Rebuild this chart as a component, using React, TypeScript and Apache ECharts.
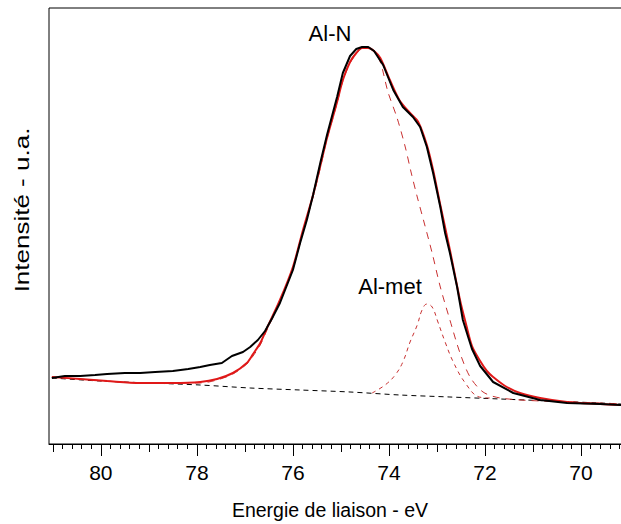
import React, { useEffect, useRef } from "react";
import * as echarts from "echarts";

// Measured spectrum (black)
const measuredEnergy = [81.02, 80.75, 80.43, 80.12, 79.87, 79.5, 79.18, 78.87, 78.5, 78.18, 77.93, 77.73, 77.48, 77.27, 77.04, 76.89, 76.73, 76.58, 76.43, 76.27, 76.0, 75.85, 75.71, 75.58, 75.43, 75.29, 75.08, 74.96, 74.81, 74.68, 74.56, 74.43, 74.31, 74.12, 73.91, 73.71, 73.5, 73.35, 73.21, 73.08, 72.93, 72.83, 72.73, 72.58, 72.46, 72.35, 72.27, 72.1, 71.83, 71.41, 70.85, 70.29, 69.6, 69.16];
const measuredIntensity = [66, 68, 68, 69, 70, 71, 71, 72, 73, 75, 77, 79, 81, 88, 92, 97, 104, 113, 126, 141, 174, 201, 224, 249, 281, 309, 347, 371, 388, 395, 397, 397, 393, 379, 354, 337, 327, 317, 297, 271, 237, 211, 191, 157, 124, 107, 95, 78, 62, 51, 44, 41, 40, 39];

// Fit envelope (red)
const fitEnergy = [81.02, 80.43, 79.87, 79.18, 78.5, 77.93, 77.58, 77.25, 76.96, 76.83, 76.68, 76.54, 76.27, 76.0, 75.79, 75.58, 75.43, 75.29, 75.08, 74.96, 74.81, 74.68, 74.56, 74.43, 74.31, 74.18, 73.98, 73.77, 73.56, 73.39, 73.21, 73.08, 72.93, 72.73, 72.52, 72.39, 72.27, 72.1, 71.96, 71.83, 71.58, 71.27, 70.85, 70.29, 69.6, 69.16];
const fitIntensity = [67, 65, 63, 61, 61, 62, 65, 71, 81, 90, 101, 116, 144, 177, 214, 249, 278, 306, 342, 364, 382, 391, 396, 396, 393, 386, 364, 343, 331, 322, 299, 274, 239, 194, 144, 119, 98, 83, 73, 67, 58, 51, 46, 42, 40, 39];

// Al-N component (red dashed)
const alnEnergy = [81.02, 79.87, 79.18, 78.5, 77.93, 77.58, 77.25, 76.96, 76.83, 76.68, 76.54, 76.27, 76.0, 75.79, 75.58, 75.43, 75.29, 75.08, 74.96, 74.81, 74.68, 74.56, 74.43, 74.31, 74.18, 74.02, 73.83, 73.66, 73.54, 73.41, 73.27, 73.1, 72.93, 72.73, 72.52, 72.31, 72.04, 71.68, 70.85, 69.6, 69.16];
const alnIntensity = [67, 63, 61, 61, 61, 64, 70, 80, 88, 99, 114, 142, 175, 212, 247, 276, 305, 341, 363, 381, 390, 396, 396, 392, 382, 352, 326, 297, 272, 247, 222, 191, 157, 124, 91, 67, 52, 46, 43, 41, 40];

// Al-met component (red dashed)
const almetEnergy = [74.35, 74.08, 73.87, 73.71, 73.56, 73.41, 73.31, 73.21, 73.1, 72.98, 72.83, 72.66, 72.41, 72.12, 71.89];
const almetIntensity = [51, 59, 69, 82, 102, 119, 134, 140, 137, 122, 102, 82, 61, 47, 46];

// Background (black dashed)
const baseEnergy = [81.02, 80.02, 78.98, 77.93, 76.89, 75.85, 74.81, 73.77, 72.73, 71.68, 70.64, 69.6, 69.16];
const baseIntensity = [66, 63, 61, 59, 56, 54, 52, 49, 47, 45, 43, 41, 40];

const majorTicks = [70, 72, 74, 76, 78, 80];
const mediumTicks = [69, 71, 73, 75, 77, 79, 81];
const X_MIN = 69;
const X_MAX = 81.08;

const zip = (xs: number[], ys: number[]) => xs.map((x, i) => [x, ys[i]]);

const FONT = "'Liberation Sans', Arial, sans-serif";

export default function App() {
  const ref = useRef<HTMLDivElement>(null);
  useEffect(() => {
    if (!ref.current) return;
    const chart = echarts.init(ref.current, undefined, { renderer: "svg" });
    const minorTicks: number[] = [];
    for (let i = 1; X_MIN + i * 0.2 <= X_MAX; i++) minorTicks.push(+(X_MIN + i * 0.2).toFixed(1));

    const gridBase = { left: 49, top: 8, right: -8, bottom: 80, containLabel: false, outerBoundsMode: "none" };
    const xBase = {
      type: "value",
      min: X_MIN,
      max: X_MAX,
      inverse: true,
      position: "bottom",
      splitLine: { show: false },
      minorTick: { show: false },
    };

    chart.setOption({
      animation: false,
      backgroundColor: "#fff",
      grid: [
        { ...gridBase, show: true, borderColor: "#000", borderWidth: 1 },
        { ...gridBase, show: false },
        { ...gridBase, show: false },
      ],
      xAxis: [
        {
          ...xBase,
          gridIndex: 0,
          axisLine: { show: true, lineStyle: { color: "#000", width: 1 } },
          axisTick: { show: true, length: 12, customValues: majorTicks, lineStyle: { color: "#000", width: 1 } },
          axisLabel: { show: true, customValues: majorTicks, color: "#000", fontSize: 21, fontFamily: FONT, margin: 18 },
        },
        {
          ...xBase,
          gridIndex: 1,
          axisLine: { show: false },
          axisTick: { show: true, length: 8, customValues: mediumTicks, lineStyle: { color: "#000", width: 1 } },
          axisLabel: { show: false },
        },
        {
          ...xBase,
          gridIndex: 2,
          axisLine: { show: false },
          axisTick: { show: true, length: 5, customValues: minorTicks, lineStyle: { color: "#000", width: 1 } },
          axisLabel: { show: false },
        },
      ],
      yAxis: [0, 1, 2].map((g) => ({
        type: "value",
        gridIndex: g,
        min: 0,
        max: 436,
        show: false,
        splitLine: { show: false },
      })),
      series: [
        {
          name: "Fond",
          type: "line",
          data: zip(baseEnergy, baseIntensity),
          showSymbol: false,
          smooth: 0.3,
          lineStyle: { color: "#000", width: 1, type: [5, 4] },
        },
        {
          name: "Al-met",
          type: "line",
          data: zip(almetEnergy, almetIntensity),
          showSymbol: false,
          smooth: 0.4,
          lineStyle: { color: "#c83030", width: 1, type: [4, 4] },
        },
        {
          name: "Al-N",
          type: "line",
          data: zip(alnEnergy, alnIntensity),
          showSymbol: false,
          smooth: 0.3,
          lineStyle: { color: "#c83030", width: 1, type: [7, 6] },
        },
        {
          name: "Enveloppe",
          type: "line",
          data: zip(fitEnergy, fitIntensity),
          showSymbol: false,
          smooth: 0.3,
          lineStyle: { color: "#e01818", width: 2 },
        },
        {
          name: "Mesure",
          type: "line",
          data: zip(measuredEnergy, measuredIntensity),
          showSymbol: false,
          lineStyle: { color: "#000", width: 2 },
        },
      ],
      graphic: [
        {
          type: "text",
          x: 330,
          y: 33,
          style: { text: "Al-N", fontSize: 22, fontFamily: FONT, fill: "#000", textAlign: "center", textVerticalAlign: "middle" },
        },
        {
          type: "text",
          x: 390,
          y: 286,
          style: { text: "Al-met", fontSize: 22, fontFamily: FONT, fill: "#000", textAlign: "center", textVerticalAlign: "middle" },
        },
        {
          type: "text",
          x: 330,
          y: 510,
          style: { text: "Energie de liaison - eV", fontSize: 19.5, fontFamily: FONT, fill: "#000", textAlign: "center", textVerticalAlign: "middle" },
        },
        {
          type: "text",
          x: 22,
          y: 210,
          rotation: Math.PI / 2,
          scaleX: 1.3,
          style: { text: "Intensité - u.a.", fontSize: 20, fontFamily: FONT, fill: "#000", textAlign: "center", textVerticalAlign: "middle" },
        },
      ],
    });
    return () => chart.dispose();
  }, []);
  return <div ref={ref} style={{ position: "absolute", left: 0, top: 0, width: 621, height: 524 }} />;
}
